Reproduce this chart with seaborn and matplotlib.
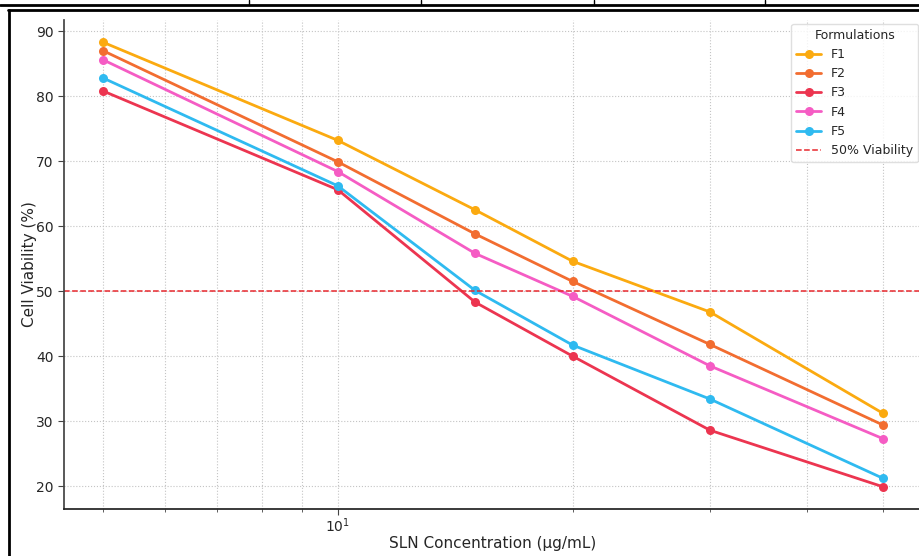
import numpy as np
import pandas as pd
import seaborn as sns
import matplotlib.pyplot as plt
from matplotlib.lines import Line2D

# values
concentrations = [5, 10, 15, 20, 30, 50]
f1 = [88.3, 73.2, 62.5, 54.6, 46.8, 31.2]
f2 = [87.0, 69.9, 58.8, 51.5, 41.8, 29.4]
f3 = [80.8, 65.6, 48.3, 40.0, 28.6, 19.9]
f4 = [85.6, 68.4, 55.8, 49.2, 38.5, 27.3]
f5 = [82.8, 66.2, 50.1, 41.7, 33.4, 21.2]
formulations = ["F1", "F2", "F3", "F4", "F5"]
colors = ["#fbaa10", "#f26d30", "#ec3550", "#f55cc4", "#2fbaf0"]

df = pd.DataFrame({
    "Concentration": concentrations * 5,
    "Viability": f1 + f2 + f3 + f4 + f5,
    "Formulation": np.repeat(formulations, len(concentrations)),
})

sns.set_theme(style="white")
plt.rcParams['font.family'] = ['DejaVu Sans']

fig = plt.figure(figsize=(9.19, 5.56), dpi=100)
# the reference is a cropped screenshot, so the axes runs slightly past the right edge
ax = fig.add_axes([64 / 919, 47 / 556, 858 / 919, 489 / 556])

sns.lineplot(data=df, x="Concentration", y="Viability", hue="Formulation",
             palette=colors, marker="o", markersize=6.5, markeredgewidth=0,
             linewidth=2, legend=False, ax=ax)
ax.axhline(50, color="#e8282e", linestyle="--", linewidth=1.1)

ax.set_xscale("log")
ax.margins(x=0.05, y=0.05)
ax.grid(True, which="both", axis="x", linestyle=":", color="#c4c4c4", linewidth=0.8)
ax.grid(True, which="major", axis="y", linestyle=":", color="#c4c4c4", linewidth=0.8)
sns.despine(ax=ax)
ax.spines["left"].set_color("#444444")
ax.spines["bottom"].set_color("#222222")
ax.tick_params(axis="both", which="major", direction="out", length=4, width=0.8,
               labelsize=10, left=True, bottom=True, color="#444444")
ax.tick_params(axis="x", which="major", pad=1)
ax.tick_params(axis="x", which="minor", direction="out", length=2.5, width=0.6,
               bottom=True, color="#444444")

ax.set_xlabel("SLN Concentration (µg/mL)", fontsize=11, labelpad=1)
ax.set_ylabel("Cell Viability (%)", fontsize=11, labelpad=-1)

handles = list(ax.lines[:5])
handles.append(Line2D([], [], color="#e8282e", linestyle="--", linewidth=1.1))
labels = formulations + ["50% Viability"]
leg = ax.legend(handles, labels, title="Formulations", loc="upper right",
                fontsize=9, title_fontsize=9, frameon=True, fancybox=True,
                borderaxespad=0.3)
leg.get_frame().set_edgecolor("#d8d8d8")

# screenshot frame: table row above and border around the chart
fig.add_artist(Line2D([0, 1], [1 - 5 / 556, 1 - 5 / 556], color="black", linewidth=2))
for sx in [249, 421, 594, 765]:
    fig.add_artist(Line2D([sx / 919, sx / 919], [1, 1 - 5 / 556], color="black", linewidth=1))
fig.add_artist(Line2D([8 / 919, 1], [1 - 9.5 / 556, 1 - 9.5 / 556], color="black", linewidth=2))
fig.add_artist(Line2D([8.5 / 919, 8.5 / 919], [0, 1 - 9.5 / 556], color="black", linewidth=2))

fig.savefig("out.png", dpi=100)
